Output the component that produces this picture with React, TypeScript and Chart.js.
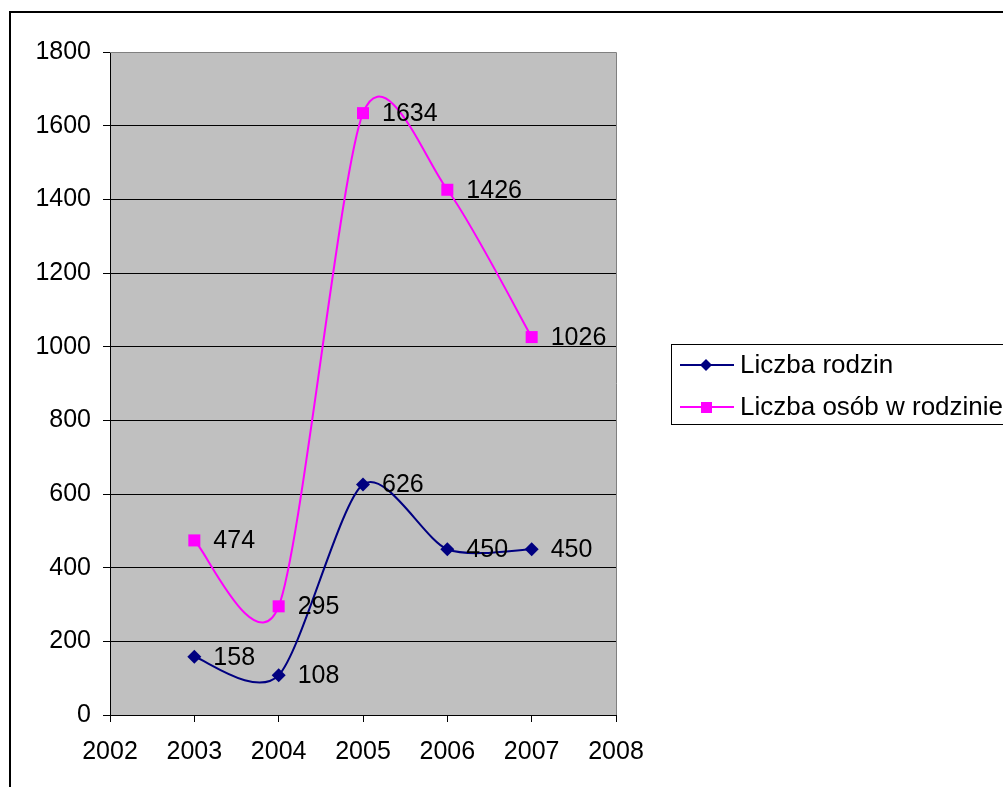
import React, { useEffect, useRef } from "react";
import { Chart, registerables } from "chart.js";

Chart.register(...registerables);

const years = [2003, 2004, 2005, 2006, 2007];
const liczbaRodzin = [158, 108, 626, 450, 450];
const liczbaOsob = [474, 295, 1634, 1426, 1026];
const seriesNames = ["Liczba rodzin", "Liczba osób w rodzinie"];
const xMin = 2002;
const xMax = 2008;
const yMax = 1800;
const yStep = 200;

const FONT = "'Liberation Sans', Arial, sans-serif";
const FS = 25;
const LEG_FS = 26;
const NAVY = "#000080";
const PINK = "#FF00FF";
const SMOOTH = 0.135;

const framePlugin = {
  id: "frame",
  beforeDraw(chart: any) {
    const { ctx, chartArea: a } = chart;
    ctx.save();
    ctx.fillStyle = "#C0C0C0";
    ctx.fillRect(a.left, a.top, a.right - a.left, a.bottom - a.top);
    ctx.restore();
  },
  beforeDatasetDraw(chart: any, args: any) {
    // Excel-like (uniform Catmull-Rom) smoothing based on the library's point positions
    const meta = args.meta;
    const pts = meta.data;
    for (let i = 0; i < pts.length; i++) {
      const p = pts[i];
      const prev = pts[i - 1] || p;
      const next = pts[i + 1] || p;
      const dx = next.x - prev.x;
      const dy = next.y - prev.y;
      p.cp1x = p.x - SMOOTH * dx;
      p.cp1y = p.y - SMOOTH * dy;
      p.cp2x = p.x + SMOOTH * dx;
      p.cp2y = p.y + SMOOTH * dy;
    }
    if (meta.dataset) {
      meta.dataset._pointsUpdated = true;
      meta.dataset._path = undefined;
    }
  },
  afterDraw(chart: any) {
    const { ctx, chartArea: a } = chart;
    ctx.save();
    ctx.strokeStyle = "#808080";
    ctx.lineWidth = 1;
    ctx.beginPath();
    ctx.moveTo(a.left, a.top + 0.5);
    ctx.lineTo(a.right + 0.5, a.top + 0.5);
    ctx.lineTo(a.right + 0.5, a.bottom);
    ctx.stroke();
    ctx.strokeStyle = "#000";
    ctx.lineWidth = 2;
    ctx.strokeRect(10, 12, 1100, 900);
    const lx = 671.5, ly = 344.5;
    ctx.fillStyle = "#fff";
    ctx.fillRect(lx, ly, 400, 80);
    ctx.strokeStyle = "#000";
    ctx.lineWidth = 1;
    ctx.strokeRect(lx, ly, 400, 80);
    const rows = [
      { y: 365, color: NAVY, style: "diamond" },
      { y: 407, color: PINK, style: "square" },
    ];
    ctx.font = `${LEG_FS}px ${FONT}`;
    ctx.textBaseline = "middle";
    ctx.textAlign = "left";
    rows.forEach((r, i) => {
      ctx.strokeStyle = r.color;
      ctx.lineWidth = 2;
      ctx.beginPath();
      ctx.moveTo(680, r.y);
      ctx.lineTo(734, r.y);
      ctx.stroke();
      ctx.fillStyle = r.color;
      ctx.beginPath();
      if (r.style === "diamond") {
        ctx.moveTo(706, r.y - 6);
        ctx.lineTo(712, r.y);
        ctx.lineTo(706, r.y + 6);
        ctx.lineTo(700, r.y);
        ctx.closePath();
      } else {
        ctx.rect(701, r.y - 5, 11, 11);
      }
      ctx.fill();
      ctx.fillStyle = "#000";
      ctx.fillText(seriesNames[i], 740, r.y + 1);
    });
    ctx.restore();
  },
  afterDatasetsDraw(chart: any) {
    const { ctx } = chart;
    ctx.save();
    ctx.font = `${FS}px ${FONT}`;
    ctx.fillStyle = "#000";
    ctx.textBaseline = "middle";
    ctx.textAlign = "left";
    chart.data.datasets.forEach((ds: any, di: number) => {
      const meta = chart.getDatasetMeta(di);
      meta.data.forEach((pt: any, i: number) => {
        ctx.fillText(String(ds.data[i].y), pt.x + 19, pt.y + 1);
      });
    });
    ctx.restore();
  },
};

export default function App() {
  const ref = useRef<HTMLCanvasElement>(null);
  useEffect(() => {
    if (!ref.current) return;
    const chart = new Chart(ref.current, {
      type: "line",
      data: {
        datasets: [
          {
            label: seriesNames[0],
            data: years.map((x, i) => ({ x, y: liczbaRodzin[i] })),
            borderColor: NAVY,
            backgroundColor: NAVY,
            borderWidth: 2,
            pointStyle: "rectRot",
            pointRadius: 7,
            pointBorderWidth: 0,
            tension: 0.4,
          },
          {
            label: seriesNames[1],
            data: years.map((x, i) => ({ x, y: liczbaOsob[i] })),
            borderColor: PINK,
            backgroundColor: PINK,
            borderWidth: 2,
            pointStyle: "rect",
            pointRadius: 8.5,
            pointBorderWidth: 0,
            tension: 0.4,
          },
        ],
      },
      options: {
        responsive: false,
        animation: false,
        layout: { padding: { left: 0, top: 52, right: 387, bottom: 0 } },
        plugins: { legend: { display: false }, tooltip: { enabled: false } },
        scales: {
          x: {
            type: "linear",
            min: xMin,
            max: xMax,
            afterFit: (s: any) => { s.height = 72; },
            ticks: {
              stepSize: 1,
              color: "#000",
              font: { family: FONT, size: FS },
              padding: 15,
              callback: (v: any) => String(v),
              maxRotation: 0,
            },
            grid: { drawOnChartArea: false, drawTicks: true, tickLength: 7, color: "#000" },
            border: { display: true, color: "#000", width: 1 },
          },
          y: {
            min: 0,
            max: yMax,
            afterFit: (s: any) => { s.width = 110; },
            ticks: {
              stepSize: yStep,
              color: "#000",
              font: { family: FONT, size: FS },
              padding: 12,
              callback: (v: any) => String(v),
            },
            grid: { drawOnChartArea: true, drawTicks: true, tickLength: 7, color: "#000" },
            border: { display: true, color: "#000", width: 1 },
          },
        },
      },
      plugins: [framePlugin],
    } as any);
    return () => chart.destroy();
  }, []);
  return (
    <div style={{ position: "absolute", left: 0, top: 0, width: 1003, height: 787, background: "#fff", overflow: "hidden" }}>
      <canvas ref={ref} width={1003} height={787} style={{ display: "block" }} />
    </div>
  );
}
